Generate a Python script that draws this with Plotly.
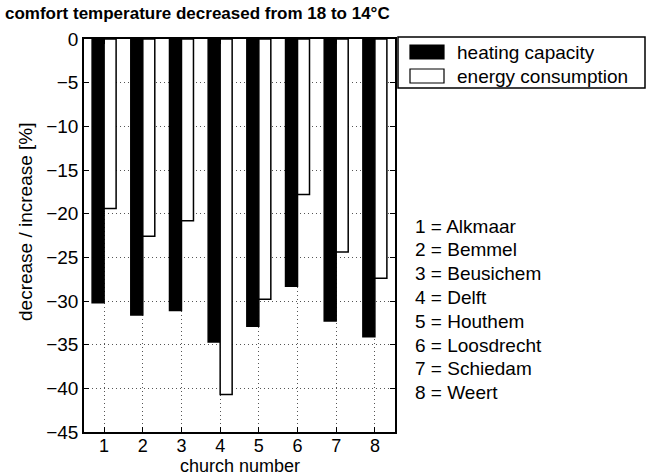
import plotly.graph_objects as go

churches = [1, 2, 3, 4, 5, 6, 7, 8]
heating_capacity = [-30.2, -31.6, -31.1, -34.7, -32.9, -28.3, -32.3, -34.1]
energy_consumption = [-19.4, -22.6, -20.8, -40.7, -29.8, -17.8, -24.4, -27.4]
church_names = ["Alkmaar", "Bemmel", "Beusichem", "Delft", "Houthem",
                "Loosdrecht", "Schiedam", "Weert"]
y_ticks = [0, -5, -10, -15, -20, -25, -30, -35, -40, -45]
series_names = ["heating capacity", "energy consumption"]
series_fill = ["black", "white"]

FONT = "Liberation Sans, Arial, Helvetica, sans-serif"
FS = 19

W, H = 650, 476
L, R, T, B = 84, 255, 39, 44
pw, ph = W - L - R, H - T - B


def px_x(p):
    return (p - L) / pw


def px_y(p):
    return (H - B - p) / ph


fig = go.Figure()
for name, vals, col in zip(series_names, [heating_capacity, energy_consumption], series_fill):
    fig.add_trace(go.Bar(x=churches, y=vals, name=name, showlegend=False,
                         marker=dict(color=col, line=dict(color="black", width=1.5))))

annotations = []
shapes = []
for i, (n, name) in enumerate(zip(churches, church_names)):
    ypix = 226 + i * 23.8
    annotations.append(dict(
        x=px_x(413), y=px_y(ypix), xref="paper", yref="paper",
        text=f"{n} = {name}", showarrow=False, xanchor="left", yanchor="middle",
        font=dict(size=FS, color="black", family=FONT)))

# legend drawn as a box with swatches
shapes.append(dict(type="rect", xref="paper", yref="paper",
                   x0=px_x(398), x1=px_x(645), y0=px_y(37), y1=px_y(88),
                   line=dict(color="black", width=1.5), fillcolor="white", layer="above"))
for j, (name, col) in enumerate(zip(series_names, series_fill)):
    yc = 52 + j * 24
    shapes.append(dict(type="rect", xref="paper", yref="paper",
                       x0=px_x(410), x1=px_x(444), y0=px_y(yc - 7), y1=px_y(yc + 7),
                       line=dict(color="black", width=1.2), fillcolor=col, layer="above"))
    annotations.append(dict(
        x=px_x(455), y=px_y(yc), xref="paper", yref="paper",
        text=name, showarrow=False, xanchor="left", yanchor="middle",
        font=dict(size=FS, color="black", family=FONT)))

# axis titles
annotations.append(dict(
    x=px_x(240), y=px_y(466), xref="paper", yref="paper",
    text="church number", showarrow=False, xanchor="center", yanchor="middle",
    font=dict(size=18, color="black", family=FONT)))
annotations.append(dict(
    x=px_x(25), y=px_y(222), xref="paper", yref="paper", textangle=-90,
    text="decrease / increase [%]", showarrow=False, xanchor="center", yanchor="middle",
    font=dict(size=FS, color="black", family=FONT)))

fig.update_layout(
    width=W, height=H,
    margin=dict(l=L, r=R, t=T, b=B),
    paper_bgcolor="white", plot_bgcolor="white",
    barmode="group", bargap=0.38, bargroupgap=0,
    font=dict(family=FONT, size=FS, color="black"),
    title=dict(text="<b>comfort temperature decreased from 18 to 14°C</b>",
               x=5 / W, xanchor="left", y=1 - 13 / H, yanchor="middle",
               font=dict(size=17, family=FONT, color="black")),
    showlegend=False,
    annotations=annotations,
    shapes=shapes,
    xaxis=dict(range=[0.48, 8.52], tickvals=churches, ticktext=[str(c) for c in churches],
               showline=True, linecolor="black", linewidth=1.5, mirror="ticks",
               ticks="inside", ticklen=5, tickcolor="black", automargin=False,
               tickfont=dict(size=18), ticklabelstandoff=-3,
               showgrid=True, gridcolor="#555", griddash="1px,3px", gridwidth=1,
               zeroline=False),
    yaxis=dict(range=[-45, 0], tickvals=y_ticks, automargin=False,
               ticktext=["0" if v == 0 else f"\u2212{abs(v)}" for v in y_ticks],
               showline=True, linecolor="black", linewidth=1.5, mirror="ticks",
               ticks="inside", ticklen=5, tickcolor="black",
               showgrid=True, gridcolor="#555", griddash="1px,3px", gridwidth=1,
               zeroline=False),
)

fig.write_html("out.html", config={"displayModeBar": False},
               post_script="document.body.style.margin='0';")
